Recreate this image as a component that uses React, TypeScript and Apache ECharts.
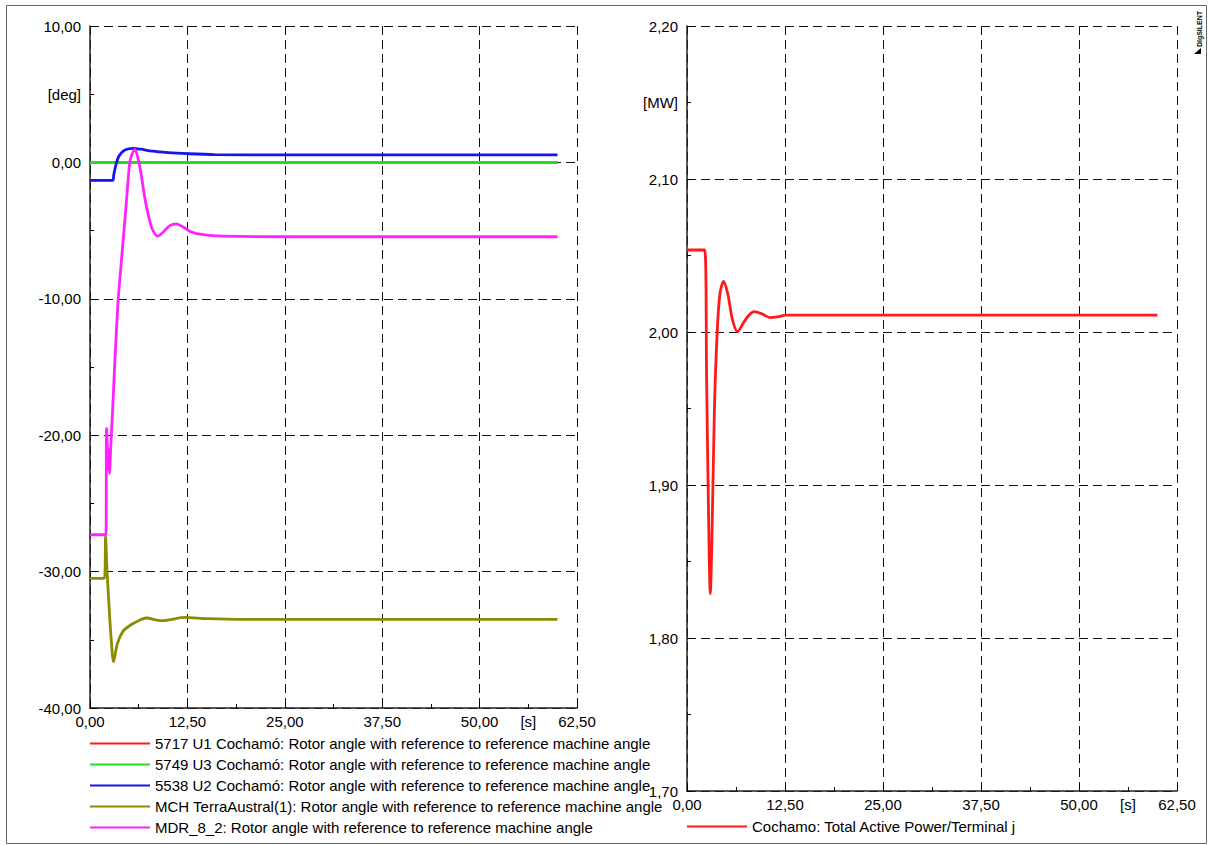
import React, { useEffect, useRef } from "react";
import * as echarts from "echarts";

// ---------- data (time in s) ----------
const xTicks = [0, 12.5, 25, 37.5, 50, 62.5];
const xUnitAt = 56.25;
const leftYTicks = [-40, -30, -20, -10, 0, 10];
const leftUnitAt = 5;
const rightYTicks = [1.7, 1.8, 1.9, 2.0, 2.1, 2.2];
const rightUnitAt = 2.15;

const leftNames = [
  "5717 U1 Cochamó: Rotor angle with reference to reference machine angle",
  "5749 U3 Cochamó: Rotor angle with reference to reference machine angle",
  "5538 U2 Cochamó: Rotor angle with reference to reference machine angle",
  "MCH TerraAustral(1): Rotor angle with reference to reference machine angle",
  "MDR_8_2: Rotor angle with reference to reference machine angle",
];
const rightName = "Cochamo: Total Active Power/Terminal j";

const tU1 = [0, 60];
const vU1 = [0, 0];

const tU3 = [0, 60];
const vU3 = [0, 0];

const tU2 = [0, 2.9, 3.05, 3.3, 3.7, 4.3, 5.0, 5.6, 6.5, 8, 10, 12.5, 16, 25, 60];
const vU2 = [-1.32, -1.32, -0.9, -0.25, 0.45, 0.85, 1.0, 1.03, 0.97, 0.82, 0.72, 0.64, 0.57, 0.55, 0.55];

const tMCH = [0, 1.85, 2.0, 2.15, 2.4, 2.7, 3.03, 3.5, 4.2, 5.0, 5.9, 7.2, 9.1, 10.5, 12.1, 15, 20, 60];
const vMCH = [-30.5, -30.5, -27.4, -29.5, -32.1, -34.8, -36.6, -35.3, -34.4, -34.0, -33.7, -33.4, -33.6, -33.5, -33.36, -33.45, -33.5, -33.5];

const tMDR = [0, 2.05, 2.12, 2.3, 2.5, 2.65, 2.9, 3.2, 3.6, 3.93, 4.3, 4.7, 5.1, 5.4, 5.77, 6.2, 6.6, 7.0, 7.5, 8.0, 8.7, 9.4, 10.2, 11.1, 12.0, 13.0, 14.5, 17, 25, 60];
const vMDR = [-27.3, -27.3, -19.5, -21.5, -22.8, -21, -18.2, -14.5, -10.2, -7.9, -5.4, -2.7, 0, 0.6, 0.95, 0.2, -1.0, -2.5, -3.9, -4.9, -5.4, -5.1, -4.65, -4.5, -4.75, -5.1, -5.3, -5.4, -5.45, -5.45];

const tP = [0, 2.25, 2.5, 2.75, 2.97, 3.2, 3.5, 3.85, 4.2, 4.67, 5.2, 5.8, 6.45, 7.2, 7.9, 8.57, 9.5, 10.6, 11.6, 12.6, 20, 60];
const vP = [2.0536, 2.0536, 1.97, 1.88, 1.829, 1.87, 1.95, 2.0, 2.025, 2.033, 2.025, 2.008, 2.0002, 2.006, 2.011, 2.0133, 2.012, 2.0094, 2.01, 2.011, 2.011, 2.011];

const leftColors = ["#ff1a1a", "#22dd22", "#1515f0", "#8c8c00", "#ff22ff"];
const rightColor = "#ff1a1a";

// ---------- helpers ----------
const zip = (t: number[], v: number[]) => t.map((x, i) => [x, v[i]]);
const fmt = (v: number) => v.toFixed(2).replace(".", ",");
const near = (a: number, b: number) => Math.abs(a - b) < 1e-6;
const FONT = "Liberation Sans, Arial, sans-serif";

const makeXAxis = (gridIndex: number) => ({
  type: "value",
  gridIndex,
  min: 0,
  max: 62.5,
  interval: 12.5,
  axisLine: { show: true, onZero: false, lineStyle: { color: "#222", width: 1.5 } },
  axisTick: { show: true, inside: true, length: 6, lineStyle: { color: "#000" } },
  minorTick: { show: true, splitNumber: 2, length: 4, lineStyle: { color: "#000" } },
  splitLine: { show: true, lineStyle: { color: "#111", type: [9, 5], width: 1 } },
  axisLabel: {
    customValues: [...xTicks, xUnitAt],
    formatter: (v: number) => (near(v, xUnitAt) ? "[s]" : fmt(v)),
    color: "#000",
    fontSize: 15,
    fontFamily: FONT,
    margin: 6,
  },
});

const makeYAxis = (gridIndex: number, ticks: number[], unitAt: number, unit: string, interval: number) => ({
  type: "value",
  gridIndex,
  min: ticks[0],
  max: ticks[ticks.length - 1],
  interval,
  axisLine: { show: true, onZero: false, lineStyle: { color: "#222", width: 1.5 } },
  axisTick: { show: true, inside: true, length: 6, lineStyle: { color: "#000" } },
  minorTick: { show: true, splitNumber: 2, length: 4, lineStyle: { color: "#000" } },
  splitLine: { show: true, lineStyle: { color: "#111", type: [9, 5], width: 1 } },
  axisLabel: {
    customValues: [...ticks, unitAt],
    formatter: (v: number) => (near(v, unitAt) ? unit : fmt(v)),
    color: "#000",
    fontSize: 15,
    fontFamily: FONT,
    margin: 9,
  },
});

export default function App() {
  const ref = useRef<HTMLDivElement>(null);
  useEffect(() => {
    document.body.style.margin = "0";
    if (!ref.current) return;
    const chart = echarts.init(ref.current, undefined, { renderer: "svg" });
    const leftData = [zip(tU1, vU1), zip(tU3, vU3), zip(tU2, vU2), zip(tMCH, vMCH), zip(tMDR, vMDR)];
    const series: any[] = leftData.map((d, i) => ({
      name: leftNames[i],
      type: "line",
      xAxisIndex: 0,
      yAxisIndex: 0,
      data: d,
      showSymbol: false,
      smooth: 0.3,
      color: leftColors[i],
      lineStyle: { color: leftColors[i], width: 2.8 },
    }));
    series.push({
      name: rightName,
      type: "line",
      xAxisIndex: 1,
      yAxisIndex: 1,
      data: zip(tP, vP),
      showSymbol: false,
      smooth: 0.3,
      color: rightColor,
      lineStyle: { color: rightColor, width: 2.8 },
    });

    const legendCommon = {
      orient: "vertical",
      icon: "rect",
      itemWidth: 60,
      itemHeight: 2,
      itemGap: 6,
      padding: 0,
      selectedMode: false,
      textStyle: { color: "#000", fontSize: 15, fontFamily: FONT, lineHeight: 14 },
    };

    chart.setOption({
      animation: false,
      backgroundColor: "#fff",
      grid: [
        { left: 90, top: 26, width: 487, height: 682 },
        { left: 687, top: 26, width: 490, height: 765 },
      ],
      xAxis: [makeXAxis(0), makeXAxis(1)],
      yAxis: [
        makeYAxis(0, leftYTicks, leftUnitAt, "[deg]", 10),
        makeYAxis(1, rightYTicks, rightUnitAt, "[MW]", 0.1),
      ],
      legend: [
        { ...legendCommon, left: 90, top: 736, data: leftNames },
        { ...legendCommon, left: 687, top: 819, data: [rightName] },
      ],
      series,
      graphic: [
        {
          type: "rect",
          z: -10,
          silent: true,
          shape: { x: 6.5, y: 5.5, width: 1200, height: 838 },
          style: { fill: "none", stroke: "#666", lineWidth: 1 },
        },
        {
          type: "text",
          x: 1199,
          y: 29,
          rotation: Math.PI / 2,
          style: {
            text: "DIgSILENT",
            fontSize: 7,
            fontWeight: "bold",
            fontFamily: FONT,
            fill: "#000",
            align: "center",
            verticalAlign: "middle",
          },
        },
        {
          type: "polygon",
          shape: { points: [[1201, 48], [1201, 54], [1194, 54]] },
          style: { fill: "#000" },
        },
      ],
    });
    return () => chart.dispose();
  }, []);
  return <div ref={ref} style={{ position: "fixed", left: 0, top: 0, width: 1209, height: 845, background: "#fff" }} />;
}
